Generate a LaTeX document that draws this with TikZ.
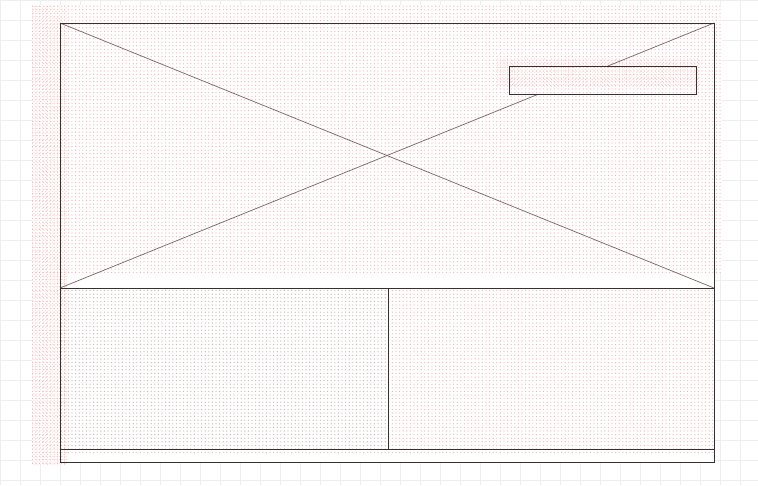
\documentclass[tikz,border=0pt]{standalone}
\usetikzlibrary{patterns.meta}
\definecolor{gridc}{RGB}{238,238,238}
\definecolor{pinkd}{RGB}{247,170,170}
\definecolor{grayd}{RGB}{200,170,170}
\definecolor{framec}{RGB}{55,48,48}
\definecolor{diagc}{RGB}{120,100,100}
\tikzset{
  frame/.style={draw=framec, line width=1pt},
  diag/.style={draw=diagc, line width=0.7pt},
  pinkfill/.style={pattern={Dots[distance=3.6pt, radius=0.6pt]}, pattern color=pinkd},
  grayfill/.style={pattern={Dots[distance=3.6pt, radius=0.6pt]}, pattern color=grayd},
  pinkdense/.style={pattern={Dots[distance=2.4pt, radius=0.5pt, angle=45]}, pattern color=pinkd!80},
}
\begin{document}
\begin{tikzpicture}[x=1pt,y=-1pt]
\useasboundingbox (0,0) rectangle (758,485);
% grid
\draw[gridc, line width=0.6pt] (0,0) grid[step=20pt] (758,485);
% white backgrounds
\fill[white] (32,5) rectangle (722,272);
\fill[white] (32,272) rectangle (67,465);
\fill[white] (60,272) rectangle (715,462);
% pink overlays
\fill[pinkfill] (32,5) rectangle (722,272);
\fill[pinkfill] (32,272) rectangle (67,465);
\fill[grayfill] (60,288) rectangle (388,449);
\fill[pinkfill] (388,288) rectangle (715,454);
\fill[pinkfill] (60,449) rectangle (388,454);
\fill[pinkdense] (32,5) rectangle (67,465);
\fill[pinkdense] (497,58) rectangle (700,86);
% image placeholder
\coordinate (tl) at (60,23);
\coordinate (tr) at (714,23);
\coordinate (ml) at (60,288);
\coordinate (mr) at (714,288);
\coordinate (bl) at (60,462);
\coordinate (br) at (714,462);
\coordinate (cb) at (60,449);
\coordinate (cbr) at (714,449);
\coordinate (vt) at (388,288);
\coordinate (vb) at (388,449);
\draw[diag] (tl) -- (mr);
\draw[diag] (tr) -- (ml);
\node[fill=white, minimum width=187pt, minimum height=28pt, inner sep=0pt, anchor=north west] (badge) at (509,66) {};
\fill[pinkfill] (badge.north west) rectangle (badge.south east);
\fill[pinkdense] (badge.north west) rectangle ([yshift=-6pt]badge.east);
\draw[frame] (badge.north west) rectangle (badge.south east);
\draw[frame] (tl) rectangle (br);
\draw[frame] (ml) -- (mr);
\draw[frame] (cb) -- (cbr);
\draw[frame] (vt) -- (vb);
\end{tikzpicture}
\end{document}
